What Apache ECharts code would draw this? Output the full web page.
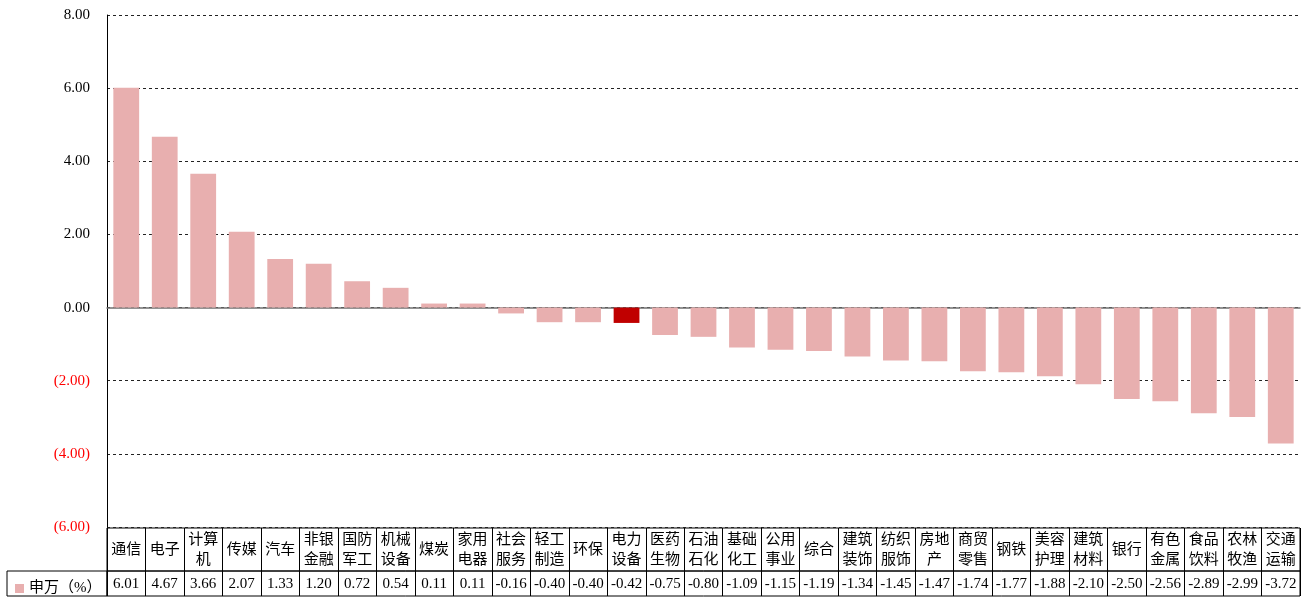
<!DOCTYPE html>
<html>
<head>
<meta charset="utf-8">
<script src="https://cdn.jsdelivr.net/npm/echarts@6/dist/echarts.min.js"></script>
<style>
  html, body { margin: 0; padding: 0; background: #fff; }
  #chart { width: 1308px; height: 598px; }
</style>
</head>
<body>
<div id="chart"></div>
<script>
// Shenwan level-1 industry returns (%)
const categories = ['通信','电子','计算机','传媒','汽车','非银金融','国防军工','机械设备','煤炭','家用电器',
  '社会服务','轻工制造','环保','电力设备','医药生物','石油石化','基础化工','公用事业','综合','建筑装饰',
  '纺织服饰','房地产','商贸零售','钢铁','美容护理','建筑材料','银行','有色金属','食品饮料','农林牧渔','交通运输'];
const values = [6.01, 4.67, 3.66, 2.07, 1.33, 1.20, 0.72, 0.54, 0.11, 0.11,
  -0.16, -0.40, -0.40, -0.42, -0.75, -0.80, -1.09, -1.15, -1.19, -1.34,
  -1.45, -1.47, -1.74, -1.77, -1.88, -2.10, -2.50, -2.56, -2.89, -2.99, -3.72];
const seriesName = '申万（%）';
const highlighted = '电力设备';
const yMin = -6, yMax = 8, yStep = 2;

const FONT = "'Liberation Serif', 'Noto Sans CJK SC', serif";
const BAR = '#E8AFAF';
const BAR_HI = '#C00000';

// wrap category names into lines of two characters
const wrap = s => s.match(/.{1,2}/g).join('\n');
const fmtY = v => v < 0 ? '(' + Math.abs(v).toFixed(2) + ')' : v.toFixed(2);

const plot = { left: 107, right: 8, top: 15, bottom: 71 };
const chart = echarts.init(document.getElementById('chart'));

const hiddenY = i => ({ type: 'value', gridIndex: i, show: false });

chart.setOption({
  animation: false,
  textStyle: { fontFamily: FONT },
  legend: {
    left: 10, top: 576,
    icon: 'rect', itemWidth: 9, itemHeight: 9, itemGap: 4,
    textStyle: { fontFamily: FONT, fontSize: 15, color: '#000' },
    data: [seriesName]
  },
  grid: [
    plot,
    // table: category row
    { left: 107, right: 8, top: 528, height: 43, show: true, borderColor: '#000', borderWidth: 1 },
    // table: value row
    { left: 107, right: 8, top: 571, height: 25, show: true, borderColor: '#000', borderWidth: 1 },
    // table: legend cell
    { left: 7, width: 100, top: 571, height: 25, show: true, borderColor: '#000', borderWidth: 1 }
  ],
  xAxis: [
    {
      type: 'category', gridIndex: 0, data: categories,
      axisLine: { onZero: true, lineStyle: { color: '#707070', width: 1.5 } },
      axisTick: { show: false }, axisLabel: { show: false }
    },
    {
      type: 'category', gridIndex: 1, data: categories, position: 'bottom',
      axisLine: { show: false }, axisTick: { show: false },
      splitLine: { show: true, interval: 0, lineStyle: { color: '#000', width: 1 } },
      axisLabel: {
        interval: 0, inside: true, margin: 21, verticalAlign: 'middle',
        fontSize: 15, lineHeight: 20, color: '#000', formatter: wrap
      }
    },
    {
      type: 'category', gridIndex: 2, data: values.map(v => v.toFixed(2)), position: 'bottom',
      axisLine: { show: false }, axisTick: { show: false },
      splitLine: { show: true, interval: 0, lineStyle: { color: '#000', width: 1 } },
      axisLabel: {
        interval: 0, inside: true, margin: 12, verticalAlign: 'middle',
        fontSize: 15, color: '#000'
      }
    },
    { type: 'category', gridIndex: 3, show: false, data: [''] }
  ],
  yAxis: [
    {
      type: 'value', gridIndex: 0, min: yMin, max: yMax, interval: yStep,
      axisLine: { show: true, lineStyle: { color: '#000', width: 1 } },
      axisTick: { show: false },
      splitLine: { show: true, lineStyle: { color: '#222', width: 1, type: [3, 3] } },
      axisLabel: {
        margin: 17, fontSize: 15,
        color: v => (v < 0 ? '#FF0000' : '#000'),
        formatter: fmtY
      }
    },
    hiddenY(1), hiddenY(2), hiddenY(3)
  ],
  series: [{
    name: seriesName,
    type: 'bar',
    xAxisIndex: 0, yAxisIndex: 0,
    barWidth: '67%',
    itemStyle: { color: BAR },
    data: values.map((v, i) => categories[i] === highlighted
      ? { value: v, itemStyle: { color: BAR_HI } }
      : v)
  }]
});
</script>
</body>
</html>
